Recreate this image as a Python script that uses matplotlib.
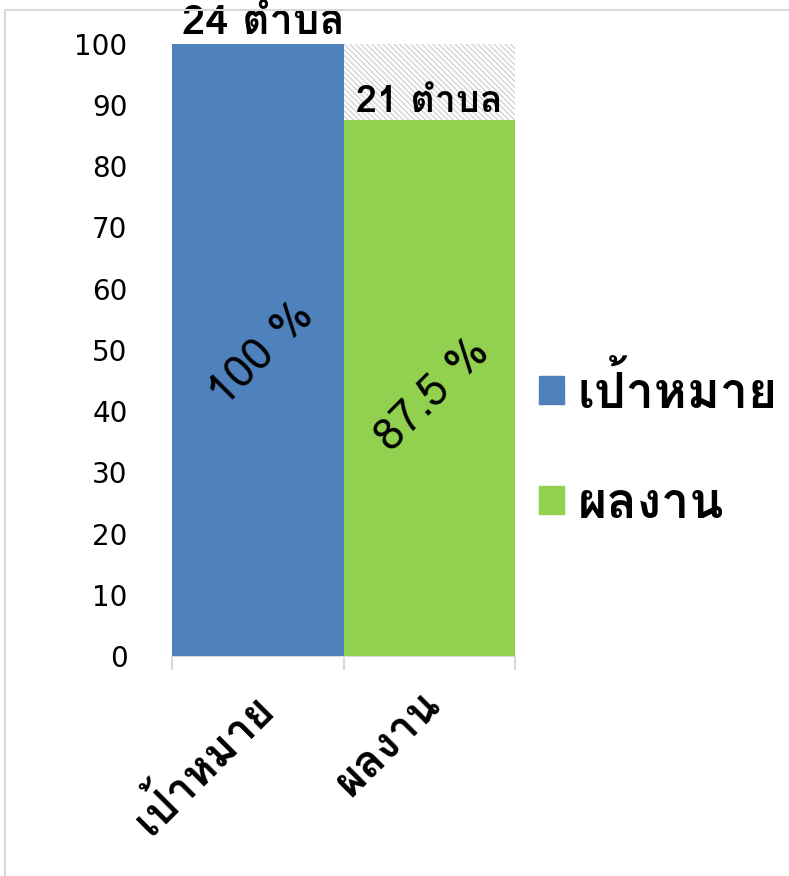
import matplotlib
matplotlib.use("Agg")
import matplotlib.pyplot as plt
from matplotlib import font_manager
from matplotlib.ft2font import FT2Font
from matplotlib.patches import Rectangle

categories = ["เป้าหมาย", "ผลงาน"]
percents = [100, 87.5]
counts = [24, 21]
pct_labels = ["100 %", "87.5 %"]
colors = ["#4F81BD", "#92D050"]

# look for an installed font that has Thai glyphs
thai_family = None
for f in font_manager.fontManager.ttflist:
    try:
        if 0x0E01 in FT2Font(f.fname).get_charmap():
            thai_family = f.name
            break
    except Exception:
        pass
fams = ([thai_family] if thai_family else []) + ["DejaVu Sans"]
plt.rcParams["font.family"] = fams

fig = plt.figure(figsize=(7.89, 8.76), dpi=100)
ax = fig.add_axes([0.218, 0.251, 0.435, 0.699])

x = [0, 1]
ax.bar(x, percents, width=1.0, color=colors, zorder=3)
# remaining part of the second bar, hatched
ax.bar(x[1], percents[0] - percents[1], bottom=percents[1], width=1.0,
       color="white", edgecolor="#d4d4d4", hatch="\\\\\\\\\\\\", linewidth=0, zorder=2)

ax.set_xlim(-0.5, 1.5)
ax.set_ylim(0, 100)
ax.set_yticks(range(0, 101, 10))
ax.yaxis.grid(True, color="#d9d9d9", linewidth=1.2, zorder=0)
ax.tick_params(axis="y", length=0, labelsize=20, pad=32)
for lab in ax.get_yticklabels():
    lab.set_family("DejaVu Sans")

ax.set_xticks([-0.5, 0.5, 1.5])
ax.set_xticklabels([])
ax.tick_params(axis="x", length=10, color="#d9d9d9", width=1.5, direction="out")
for sp in ["top", "right", "left"]:
    ax.spines[sp].set_visible(False)
ax.spines["bottom"].set_color("#d9d9d9")

lab_dx = [-0.05, -0.06]
top_dx = [0.03, 0.0]
top_fs = [30, 27]
pct_y = [49.2, 42.6]
for i in x:
    ax.text(i + lab_dx[i], -4.5, categories[i], rotation=45, ha="right", va="top",
            fontsize=32, fontweight="bold", rotation_mode="anchor")
    ax.text(i + top_dx[i], percents[i] + 0.3, "%d ตำบล" % counts[i], ha="center",
            va="bottom", fontsize=top_fs[i], fontweight="bold", zorder=5)
    ax.text(i + 0.02, pct_y[i], pct_labels[i], rotation=45, ha="center",
            va="center", fontsize=32, zorder=5)

handles = [Rectangle((0, 0), 1, 1, color=c) for c in colors]
fig.legend(handles, categories, loc="center left", bbox_to_anchor=(0.652, 0.492),
           frameon=False, prop={"size": 36, "weight": "bold"}, borderpad=0,
           handlelength=0.5, handleheight=0.5, handletextpad=0.26, labelspacing=1.3)

fig.patches.append(Rectangle((0.006, -0.1), 1.1, 1.089, transform=fig.transFigure,
                             fill=False, edgecolor="#d9d9d9", linewidth=1.5))

fig.savefig("out.png", dpi=100)
